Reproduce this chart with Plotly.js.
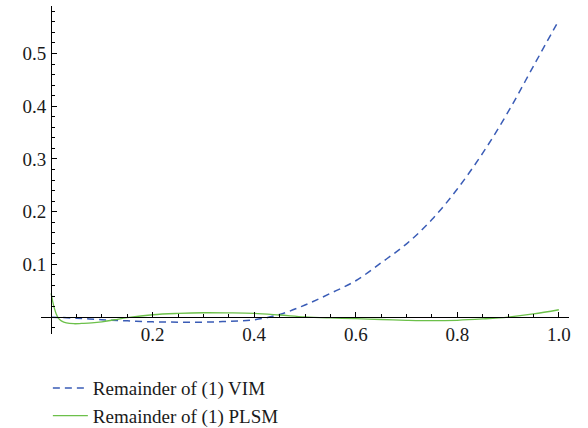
<!DOCTYPE html>
<html>
<head>
<meta charset="utf-8">
<script src="https://cdn.plot.ly/plotly-3.0.1.min.js"></script>
<style>html,body{margin:0;padding:0;background:#fff;}#chart{width:588px;height:428px;}</style>
</head>
<body>
<div id="chart"></div>
<script>
// VIM remainder
const vimX = [0, 0.05, 0.1, 0.15, 0.2, 0.25, 0.3, 0.35, 0.4, 0.45, 0.5, 0.55, 0.6, 0.65, 0.7, 0.75, 0.8, 0.85, 0.9, 0.95, 1.0];
const vimY = [0, -0.002, -0.005, -0.007, -0.009, -0.0095, -0.0095, -0.008, -0.005, 0.005, 0.023, 0.045, 0.069, 0.103, 0.139, 0.185, 0.243, 0.311, 0.389, 0.476, 0.563];
// PLSM remainder
const plsmX = [0, 0.003, 0.006, 0.01, 0.015, 0.02, 0.03, 0.045, 0.06, 0.08, 0.1, 0.125, 0.15, 0.2, 0.25, 0.3, 0.35, 0.4, 0.45, 0.5, 0.55, 0.6, 0.65, 0.7, 0.75, 0.8, 0.85, 0.9, 0.95, 1.0];
const plsmY = [0.045, 0.030, 0.018, 0.006, -0.003, -0.007, -0.011, -0.0125, -0.012, -0.011, -0.009, -0.005, -0.001, 0.0045, 0.007, 0.0083, 0.008, 0.007, 0.004, 0.0005, -0.0015, -0.003, -0.0045, -0.006, -0.0068, -0.006, -0.0035, 0.0, 0.006, 0.014];
const seriesNames = ["Remainder of (1) VIM", "Remainder of (1) PLSM"];
const xTickVals = [0.2, 0.4, 0.6, 0.8, 1.0];
const xTickText = ["0.2", "0.4", "0.6", "0.8", "1.0"];
const yTickVals = [0.1, 0.2, 0.3, 0.4, 0.5];
const yTickText = ["0.1", "0.2", "0.3", "0.4", "0.5"];

const xr = [-0.02, 1.02];
const yr = [-0.032, 0.59];
const fam = "'Liberation Serif', 'Times New Roman', serif";
const tickFont = {family: fam, size: 19, color: "#1a1a1a"};
const legendFont = {family: fam, size: 19, color: "#1a1a1a"};

const traces = [
  {x: vimX, y: vimY, name: seriesNames[0], mode: "lines", line: {color: "#3a5cb6", width: 1.5, dash: "7px,5px", shape: "spline"}},
  {x: plsmX, y: plsmY, name: seriesNames[1], mode: "lines", line: {color: "#6cc04a", width: 1.3, shape: "spline"}}
];

const layout = {
  width: 588, height: 428,
  margin: {l: 41, r: 19, t: 6, b: 94, autoexpand: false},
  paper_bgcolor: "#fff", plot_bgcolor: "#fff",
  font: tickFont,
  showlegend: true,
  legend: {x: 0.013, y: -0.107, xanchor: "left", yanchor: "top", font: legendFont, tracegroupgap: 0, itemwidth: 35, bgcolor: "rgba(0,0,0,0)"},
  xaxis: {
    range: xr, anchor: "free", position: (0 - yr[0]) / (yr[1] - yr[0]),
    showline: true, linecolor: "#000", linewidth: 1, showgrid: false, zeroline: false,
    tickmode: "array", tickvals: xTickVals, ticktext: xTickText,
    ticks: "inside", ticklen: 5, tickwidth: 1, tickcolor: "#000", ticklabelstandoff: 0,
    minor: {dtick: 0.05, tick0: 0, ticks: "inside", ticklen: 3, tickwidth: 1, tickcolor: "#000", showgrid: false},
    tickfont: tickFont
  },
  yaxis: {
    range: yr, anchor: "free", position: (0 - xr[0]) / (xr[1] - xr[0]),
    showline: true, linecolor: "#000", linewidth: 1, showgrid: false, zeroline: false,
    tickmode: "array", tickvals: yTickVals, ticktext: yTickText,
    ticks: "inside", ticklen: 5, tickwidth: 1, tickcolor: "#000", ticklabelstandoff: 1,
    minor: {dtick: 0.02, tick0: 0, ticks: "inside", ticklen: 3, tickwidth: 1, tickcolor: "#000", showgrid: false},
    tickfont: tickFont
  }
};

Plotly.newPlot("chart", traces, layout, {staticPlot: true, displayModeBar: false});
</script>
</body>
</html>
